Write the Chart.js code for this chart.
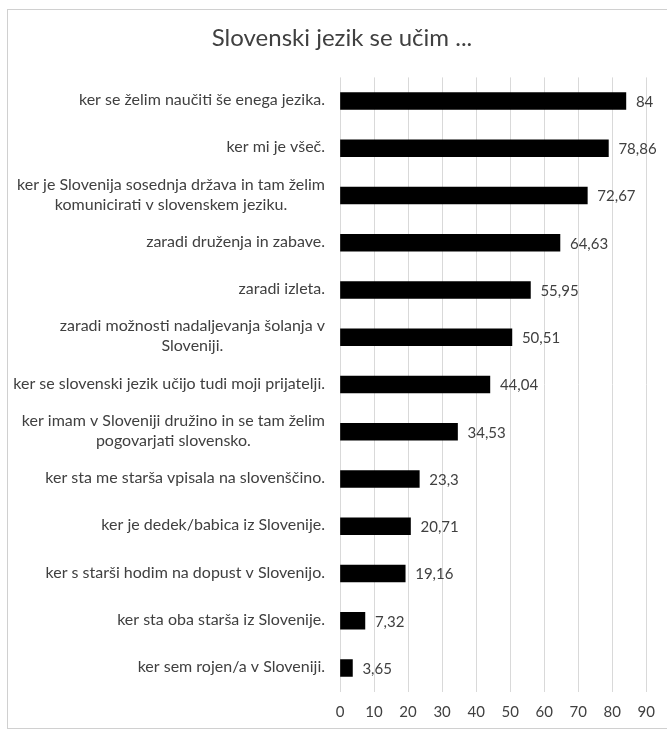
<!DOCTYPE html>
<html>
<head>
<meta charset="utf-8">
<script src="https://cdn.jsdelivr.net/npm/chart.js@4"></script>
<style>
  html, body { margin: 0; padding: 0; background: #fff; }
  #frame { position: absolute; left: 7px; top: 9px; width: 680px; height: 718px; border: 1px solid #d0d0d0; }
  #wrap { position: absolute; left: 0; top: 0; width: 667px; height: 730px; }
</style>
</head>
<body>
<div id="frame"></div>
<div id="wrap"><canvas id="chart" width="667" height="730"></canvas></div>
<script>
const title = 'Slovenski jezik se učim ...';

const categories = [
  'ker se želim naučiti še enega jezika.',
  'ker mi je všeč.',
  ['ker je Slovenija sosednja država in tam želim', 'komunicirati v slovenskem jeziku.'],
  'zaradi druženja in zabave.',
  'zaradi izleta.',
  ['zaradi možnosti nadaljevanja šolanja v', 'Sloveniji.'],
  'ker se slovenski jezik učijo tudi moji prijatelji.',
  ['ker imam v Sloveniji družino in se tam želim', 'pogovarjati slovensko.'],
  'ker sta me starša vpisala na slovenščino.',
  'ker je dedek/babica iz Slovenije.',
  'ker s starši hodim na dopust v Slovenijo.',
  'ker sta oba starša iz Slovenije.',
  'ker sem rojen/a v Sloveniji.'
];

const values = [84, 78.86, 72.67, 64.63, 55.95, 50.51, 44.04, 34.53, 23.3, 20.71, 19.16, 7.32, 3.65];

const xTicks = [0, 10, 20, 30, 40, 50, 60, 70, 80, 90];

const FONT = 'Lato';
const TEXT = '#404040';

// value labels next to the bars + category labels (block right aligned, lines centred)
const labelPlugin = {
  id: 'labels',
  afterDatasetsDraw(chart) {
    const ctx = chart.ctx;
    const meta = chart.getDatasetMeta(0);
    ctx.save();
    ctx.fillStyle = TEXT;
    ctx.textBaseline = 'middle';
    ctx.textAlign = 'left';
    ctx.font = '15px ' + FONT;
    meta.data.forEach((bar, i) => {
      ctx.fillText(String(values[i]).replace('.', ','), bar.x + 10, bar.y + 1);
    });

    ctx.font = '16px ' + FONT;
    const yScale = chart.scales.y;
    const right = chart.chartArea.left - 15;
    const lh = 20;
    categories.forEach((lab, i) => {
      const lines = Array.isArray(lab) ? lab : [lab];
      const w = Math.max(...lines.map(l => ctx.measureText(l).width));
      const cx = right - w / 2;
      const y0 = yScale.getPixelForValue(i) - (lines.length - 1) * lh / 2 - 1;
      ctx.textAlign = 'center';
      lines.forEach((l, j) => ctx.fillText(l, cx, y0 + j * lh));
    });
    ctx.restore();
  }
};

new Chart(document.getElementById('chart').getContext('2d'), {
  type: 'bar',
  data: {
    labels: categories,
    datasets: [{
      data: values,
      backgroundColor: '#000',
      borderWidth: 0,
      barThickness: 17
    }]
  },
  options: {
    indexAxis: 'y',
    responsive: false,
    animation: false,
    layout: { padding: { left: 36, right: 19, top: 0, bottom: 0 } },
    plugins: {
      legend: { display: false },
      tooltip: { enabled: false },
      title: {
        display: true,
        text: title,
        color: TEXT,
        font: { family: FONT, size: 24, weight: 'normal' },
        padding: { top: 24, bottom: 24.6 }
      }
    },
    scales: {
      x: {
        min: 0,
        max: 90,
        afterBuildTicks: s => { s.ticks = xTicks.map(v => ({ value: v })); },
        afterFit: s => { s.height = 38.4; },
        grid: { color: '#d9d9d9', drawTicks: false },
        border: { display: false },
        ticks: { color: TEXT, font: { family: FONT, size: 15 }, padding: 12 }
      },
      y: {
        afterFit: s => { s.width = 304; },
        grid: { display: false, drawTicks: false },
        border: { display: false },
        ticks: { display: false }
      }
    }
  },
  plugins: [labelPlugin]
});
</script>
</body>
</html>
